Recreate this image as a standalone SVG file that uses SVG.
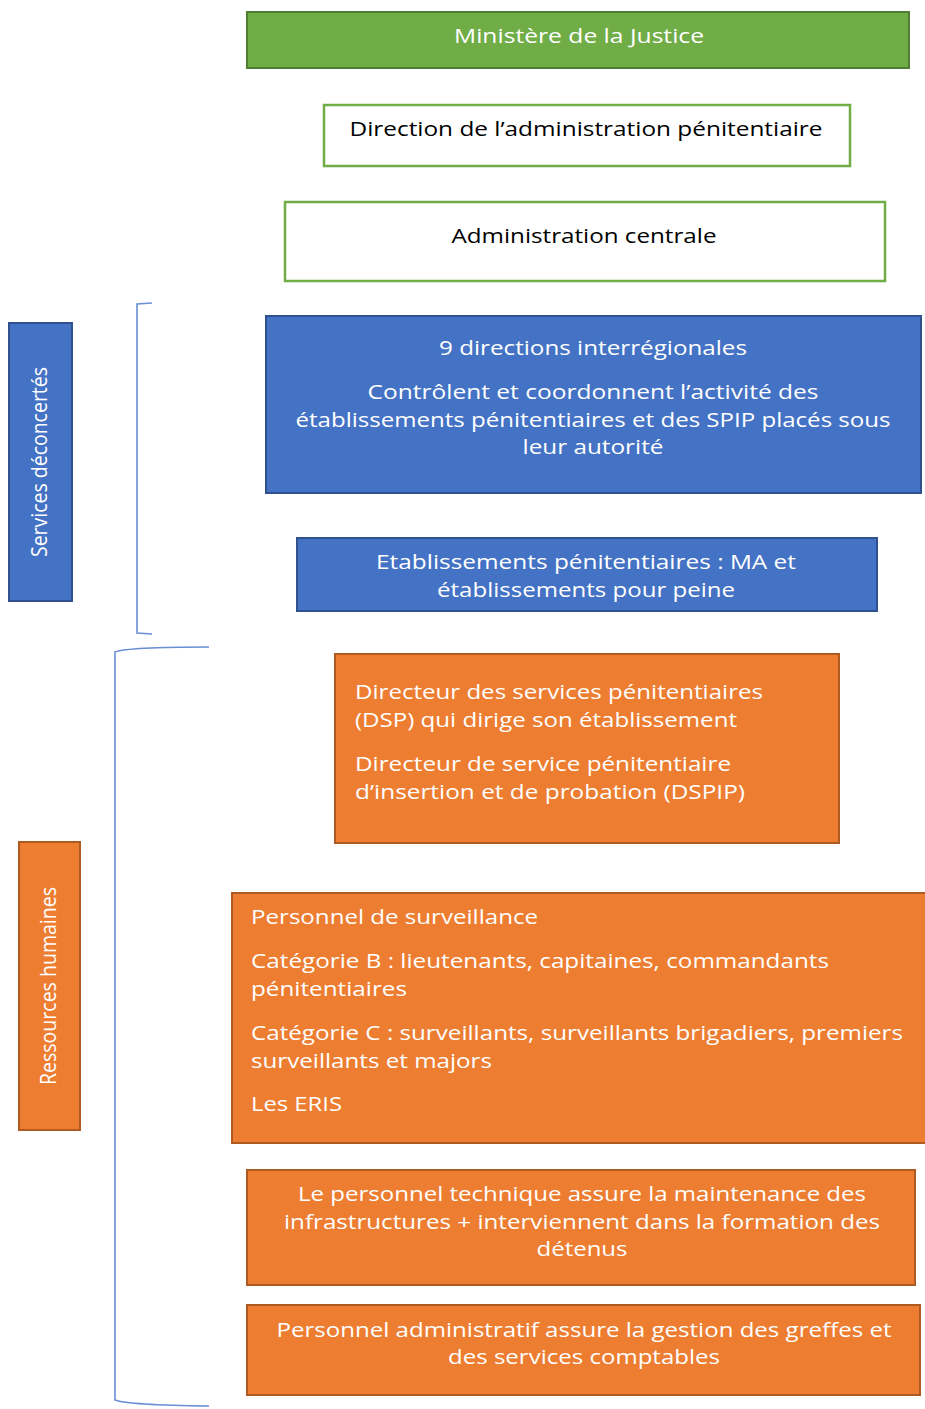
<svg xmlns="http://www.w3.org/2000/svg" width="925" height="1409" viewBox="0 0 925 1409">
<style>
.t{font-family:"Open Sans","Liberation Sans",sans-serif;font-size:20px}
.v{font-size:21px}
.w{fill:#fff}
.k{fill:#000}
.c{text-anchor:middle}
.green{fill:#70AD47;stroke:#507E32;stroke-width:2}
.wbox{fill:#fff;stroke:#70AD47;stroke-width:2.5}
.blue{fill:#4472C4;stroke:#2F528F;stroke-width:2}
.orange{fill:#ED7D31;stroke:#AE5A21;stroke-width:2}
.br{fill:none;stroke:#6A8ED4;stroke-width:1.6}
</style>
<g id="connectors">
<path class="br" d="M152 303 L137 304 L137 633 L152 634"/>
<path class="br" d="M209 647 Q128 647 115 652 L115 1400 Q128 1405 209 1406"/>
</g>
<g id="ministere">
<rect class="green" x="247" y="12" width="662" height="56"/>
<text class="t w c" x="579" y="43" textLength="250" lengthAdjust="spacingAndGlyphs">Ministère de la Justice</text>
</g>
<g id="direction">
<rect class="wbox" x="324" y="105" width="526" height="61"/>
<text class="t k c" x="586" y="136" textLength="473" lengthAdjust="spacingAndGlyphs">Direction de l’administration pénitentiaire</text>
</g>
<g id="admin-centrale">
<rect class="wbox" x="285" y="202" width="600" height="79"/>
<text class="t k c" x="584" y="243" textLength="265" lengthAdjust="spacingAndGlyphs">Administration centrale</text>
</g>
<g id="services-deconcertes">
<rect class="blue" x="9" y="323" width="63" height="278"/>
<text class="t v w c" transform="translate(47 462) rotate(-90)" textLength="190" lengthAdjust="spacingAndGlyphs">Services déconcertés</text>
</g>
<g id="directions-interregionales">
<rect class="blue" x="266" y="316" width="655" height="177"/>
<text class="t w c" x="593" y="355" textLength="308" lengthAdjust="spacingAndGlyphs">9 directions interrégionales</text>
<text class="t w c" x="593" y="399" textLength="451" lengthAdjust="spacingAndGlyphs">Contrôlent et coordonnent l’activité des</text>
<text class="t w c" x="593" y="427" textLength="595" lengthAdjust="spacingAndGlyphs">établissements pénitentiaires et des SPIP placés sous</text>
<text class="t w c" x="593" y="454" textLength="141" lengthAdjust="spacingAndGlyphs">leur autorité</text>
</g>
<g id="etablissements">
<rect class="blue" x="297" y="538" width="580" height="73"/>
<text class="t w c" x="586" y="569" textLength="420" lengthAdjust="spacingAndGlyphs">Etablissements pénitentiaires : MA et</text>
<text class="t w c" x="586" y="597" textLength="298" lengthAdjust="spacingAndGlyphs">établissements pour peine</text>
</g>
<g id="ressources-humaines">
<rect class="orange" x="19" y="842" width="61" height="288"/>
<text class="t v w c" transform="translate(56 986) rotate(-90)" textLength="198" lengthAdjust="spacingAndGlyphs">Ressources humaines</text>
</g>
<g id="directeurs">
<rect class="orange" x="335" y="654" width="504" height="189"/>
<text class="t w" x="355" y="699" textLength="408" lengthAdjust="spacingAndGlyphs">Directeur des services pénitentiaires</text>
<text class="t w" x="355" y="727" textLength="382" lengthAdjust="spacingAndGlyphs">(DSP) qui dirige son établissement</text>
<text class="t w" x="355" y="771" textLength="376" lengthAdjust="spacingAndGlyphs">Directeur de service pénitentiaire</text>
<text class="t w" x="355" y="799" textLength="390" lengthAdjust="spacingAndGlyphs">d’insertion et de probation (DSPIP)</text>
</g>
<g id="surveillance">
<rect class="orange" x="232" y="893" width="700" height="250"/>
<text class="t w" x="251" y="924" textLength="287" lengthAdjust="spacingAndGlyphs">Personnel de surveillance</text>
<text class="t w" x="251" y="968" textLength="578" lengthAdjust="spacingAndGlyphs">Catégorie B : lieutenants, capitaines, commandants</text>
<text class="t w" x="251" y="996" textLength="156" lengthAdjust="spacingAndGlyphs">pénitentiaires</text>
<text class="t w" x="251" y="1040" textLength="652" lengthAdjust="spacingAndGlyphs">Catégorie C : surveillants, surveillants brigadiers, premiers</text>
<text class="t w" x="251" y="1068" textLength="241" lengthAdjust="spacingAndGlyphs">surveillants et majors</text>
<text class="t w" x="251" y="1111" textLength="91" lengthAdjust="spacingAndGlyphs">Les ERIS</text>
</g>
<g id="technique">
<rect class="orange" x="247" y="1170" width="668" height="115"/>
<text class="t w c" x="582" y="1201" textLength="568" lengthAdjust="spacingAndGlyphs">Le personnel technique assure la maintenance des</text>
<text class="t w c" x="582" y="1229" textLength="596" lengthAdjust="spacingAndGlyphs">infrastructures + interviennent dans la formation des</text>
<text class="t w c" x="582" y="1256" textLength="91" lengthAdjust="spacingAndGlyphs">détenus</text>
</g>
<g id="administratif">
<rect class="orange" x="247" y="1305" width="673" height="90"/>
<text class="t w c" x="584" y="1337" textLength="615" lengthAdjust="spacingAndGlyphs">Personnel administratif assure la gestion des greffes et</text>
<text class="t w c" x="584" y="1364" textLength="272" lengthAdjust="spacingAndGlyphs">des services comptables</text>
</g>
</svg>
